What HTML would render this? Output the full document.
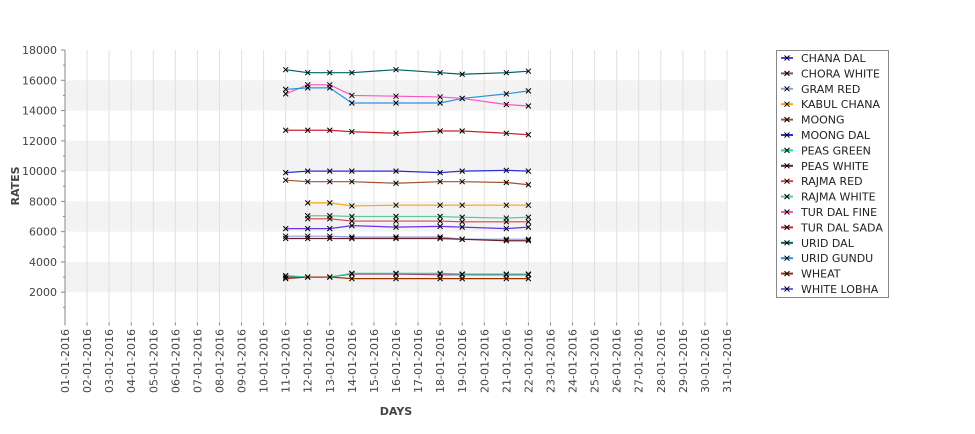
<!DOCTYPE html>
<html><head><meta charset="utf-8"><style>
body{margin:0;background:#fff;font-family:"Liberation Sans","DejaVu Sans",sans-serif;}
svg text{font-family:"DejaVu Sans","Liberation Sans",sans-serif;}
</style></head><body>
<svg id="chart" width="975" height="429" xmlns="http://www.w3.org/2000/svg"></svg>
<script>
const days=[];for(let d=1;d<=31;d++)days.push((d<10?'0':'')+d+'-01-2016');
const yTicks=[2000,4000,6000,8000,10000,12000,14000,16000,18000];
const seriesNames=["CHANA DAL","CHORA WHITE","GRAM RED","KABUL CHANA","MOONG","MOONG DAL","PEAS GREEN","PEAS WHITE","RAJMA RED","RAJMA WHITE","TUR DAL FINE","TUR DAL SADA","URID DAL","URID GUNDU","WHEAT","WHITE LOBHA"];
const seriesColors=["#6633ee","#8e4a6a","#8fa0e0","#ffa500","#a0522d","#2a2adf","#20d0a0","#6b1f2a","#e04040","#60c8a0","#ff55bb","#d02030","#006060","#3090e0","#a03000","#6666ee"];
const obsDays=[11,12,13,14,16,18,19,21,22];
const chanaDal=[6200,6200,6200,6400,6300,6350,6300,6200,6300];
const choraWhite=[3000,3000,3000,3200,3200,3150,3150,3150,3150];
const gramRed=[5700,5700,5700,5650,5650,5650,5500,5500,5500];
const kabulChana=[null,7900,7900,7700,7750,7750,7750,7750,7750];
const moong=[9400,9300,9300,9300,9200,9300,9300,9250,9100];
const moongDal=[9900,10000,10000,10000,10000,9900,10000,10050,10000];
const peasGreen=[3100,3000,3000,3250,3250,3250,3200,3200,3200];
const peasWhite=[5550,5550,5550,5550,5550,5550,5500,5400,5400];
const rajmaRed=[null,6850,6850,6700,6700,6700,6650,6650,6650];
const rajmaWhite=[null,7050,7050,7000,7000,7000,6950,6900,6950];
const turDalFine=[15100,15700,15700,15000,14950,14900,14800,14400,14300];
const turDalSada=[12700,12700,12700,12600,12500,12650,12650,12500,12400];
const uridDal=[16700,16500,16500,16500,16700,16500,16400,16500,16600];
const uridGundu=[15400,15500,15500,14500,14500,14500,14800,15100,15300];
const wheat=[2900,3000,3000,2900,2900,2900,2900,2900,2900];
const whiteLobha=[null,null,null,null,null,null,null,null,null];
const allSeries=[chanaDal,choraWhite,gramRed,kabulChana,moong,moongDal,peasGreen,peasWhite,rajmaRed,rajmaWhite,turDalFine,turDalSada,uridDal,uridGundu,wheat,whiteLobha];

const svg=document.getElementById('chart');const NS='http://www.w3.org/2000/svg';
const X0=65,X1=727,Y0=322.5,YTOP=50;
const xs=d=>X0+(d-1)*(X1-X0)/30;
const ys=v=>Y0-(v/18000)*(Y0-YTOP);
function mk(t,a,p){const e=document.createElementNS(NS,t);for(const k in a)e.setAttribute(k,a[k]);(p||svg).appendChild(e);return e;}
for(let b=2000;b<18000;b+=4000){
 const r=mk('rect',{x:X0,y:ys(b+2000),width:X1-X0,height:ys(b)-ys(b+2000),fill:'#f3f3f3'});
 
 
}
days.forEach((d,i)=>{
 const l=mk('line',{x1:xs(i+1),x2:xs(i+1),y1:YTOP,y2:Y0,stroke:'#e0e0e0','stroke-width':1});
 
 
 const t=mk('text',{x:0,y:0,'font-size':11,fill:'#444','text-anchor':'end',transform:`translate(${xs(i+1)+4},329) rotate(-90)`});
 t.textContent=d;
 
 
 mk('line',{x1:xs(i+1),x2:xs(i+1),y1:Y0,y2:Y0+3,stroke:'#888'});
});
yTicks.forEach(v=>{
 const t=mk('text',{x:57,y:ys(v)+4,'font-size':11,fill:'#444','text-anchor':'end'});
 t.textContent=v;
 
 
 mk('line',{x1:61,x2:65,y1:ys(v),y2:ys(v),stroke:'#888'});
 mk('line',{x1:63,x2:65,y1:ys(v-1000),y2:ys(v-1000),stroke:'#888'});
});
const ax=mk('line',{x1:X0,x2:X0,y1:YTOP,y2:Y0,stroke:'#888'});


const yt=mk('text',{x:0,y:0,'font-size':11,'font-weight':'bold',fill:'#444','text-anchor':'middle',transform:'translate(19,186) rotate(-90)'});
yt.textContent='RATES';


const xt=mk('text',{x:396,y:415,'font-size':11,'font-weight':'bold',fill:'#444','text-anchor':'middle'});
xt.textContent='DAYS';


function cross(x,y,p){mk('path',{d:`M${x-2.5},${y-2.5}L${x+2.5},${y+2.5}M${x-2.5},${y+2.5}L${x+2.5},${y-2.5}`,stroke:'#000','stroke-width':1},p);}
allSeries.forEach((s,si)=>{
 const g=mk('g',{});
 
 
 let pts=[];
 s.forEach((v,i)=>{if(v!=null)pts.push([xs(obsDays[i]),ys(v)]);});
 if(pts.length>1)mk('polyline',{points:pts.map(p=>p.join(',')).join(' '),fill:'none',stroke:seriesColors[si],'stroke-width':1.2},g);
 pts.forEach(p=>cross(p[0],p[1],g));
});
const lg=mk('g',{});


mk('rect',{x:776.5,y:50.5,width:112,height:247,fill:'#fff',stroke:'#888'},lg);
seriesNames.forEach((n,i)=>{
 const y=58+i*15.4;
 const e=mk('g',{},lg);
 
 
 mk('line',{x1:781,x2:793,y1:y,y2:y,stroke:seriesColors[i],'stroke-width':2},e);
 cross(787,y,e);
 const t=mk('text',{x:801,y:y+4,'font-size':11,fill:'#222'},e);
 t.textContent=n;
});
</script>
</body></html>
